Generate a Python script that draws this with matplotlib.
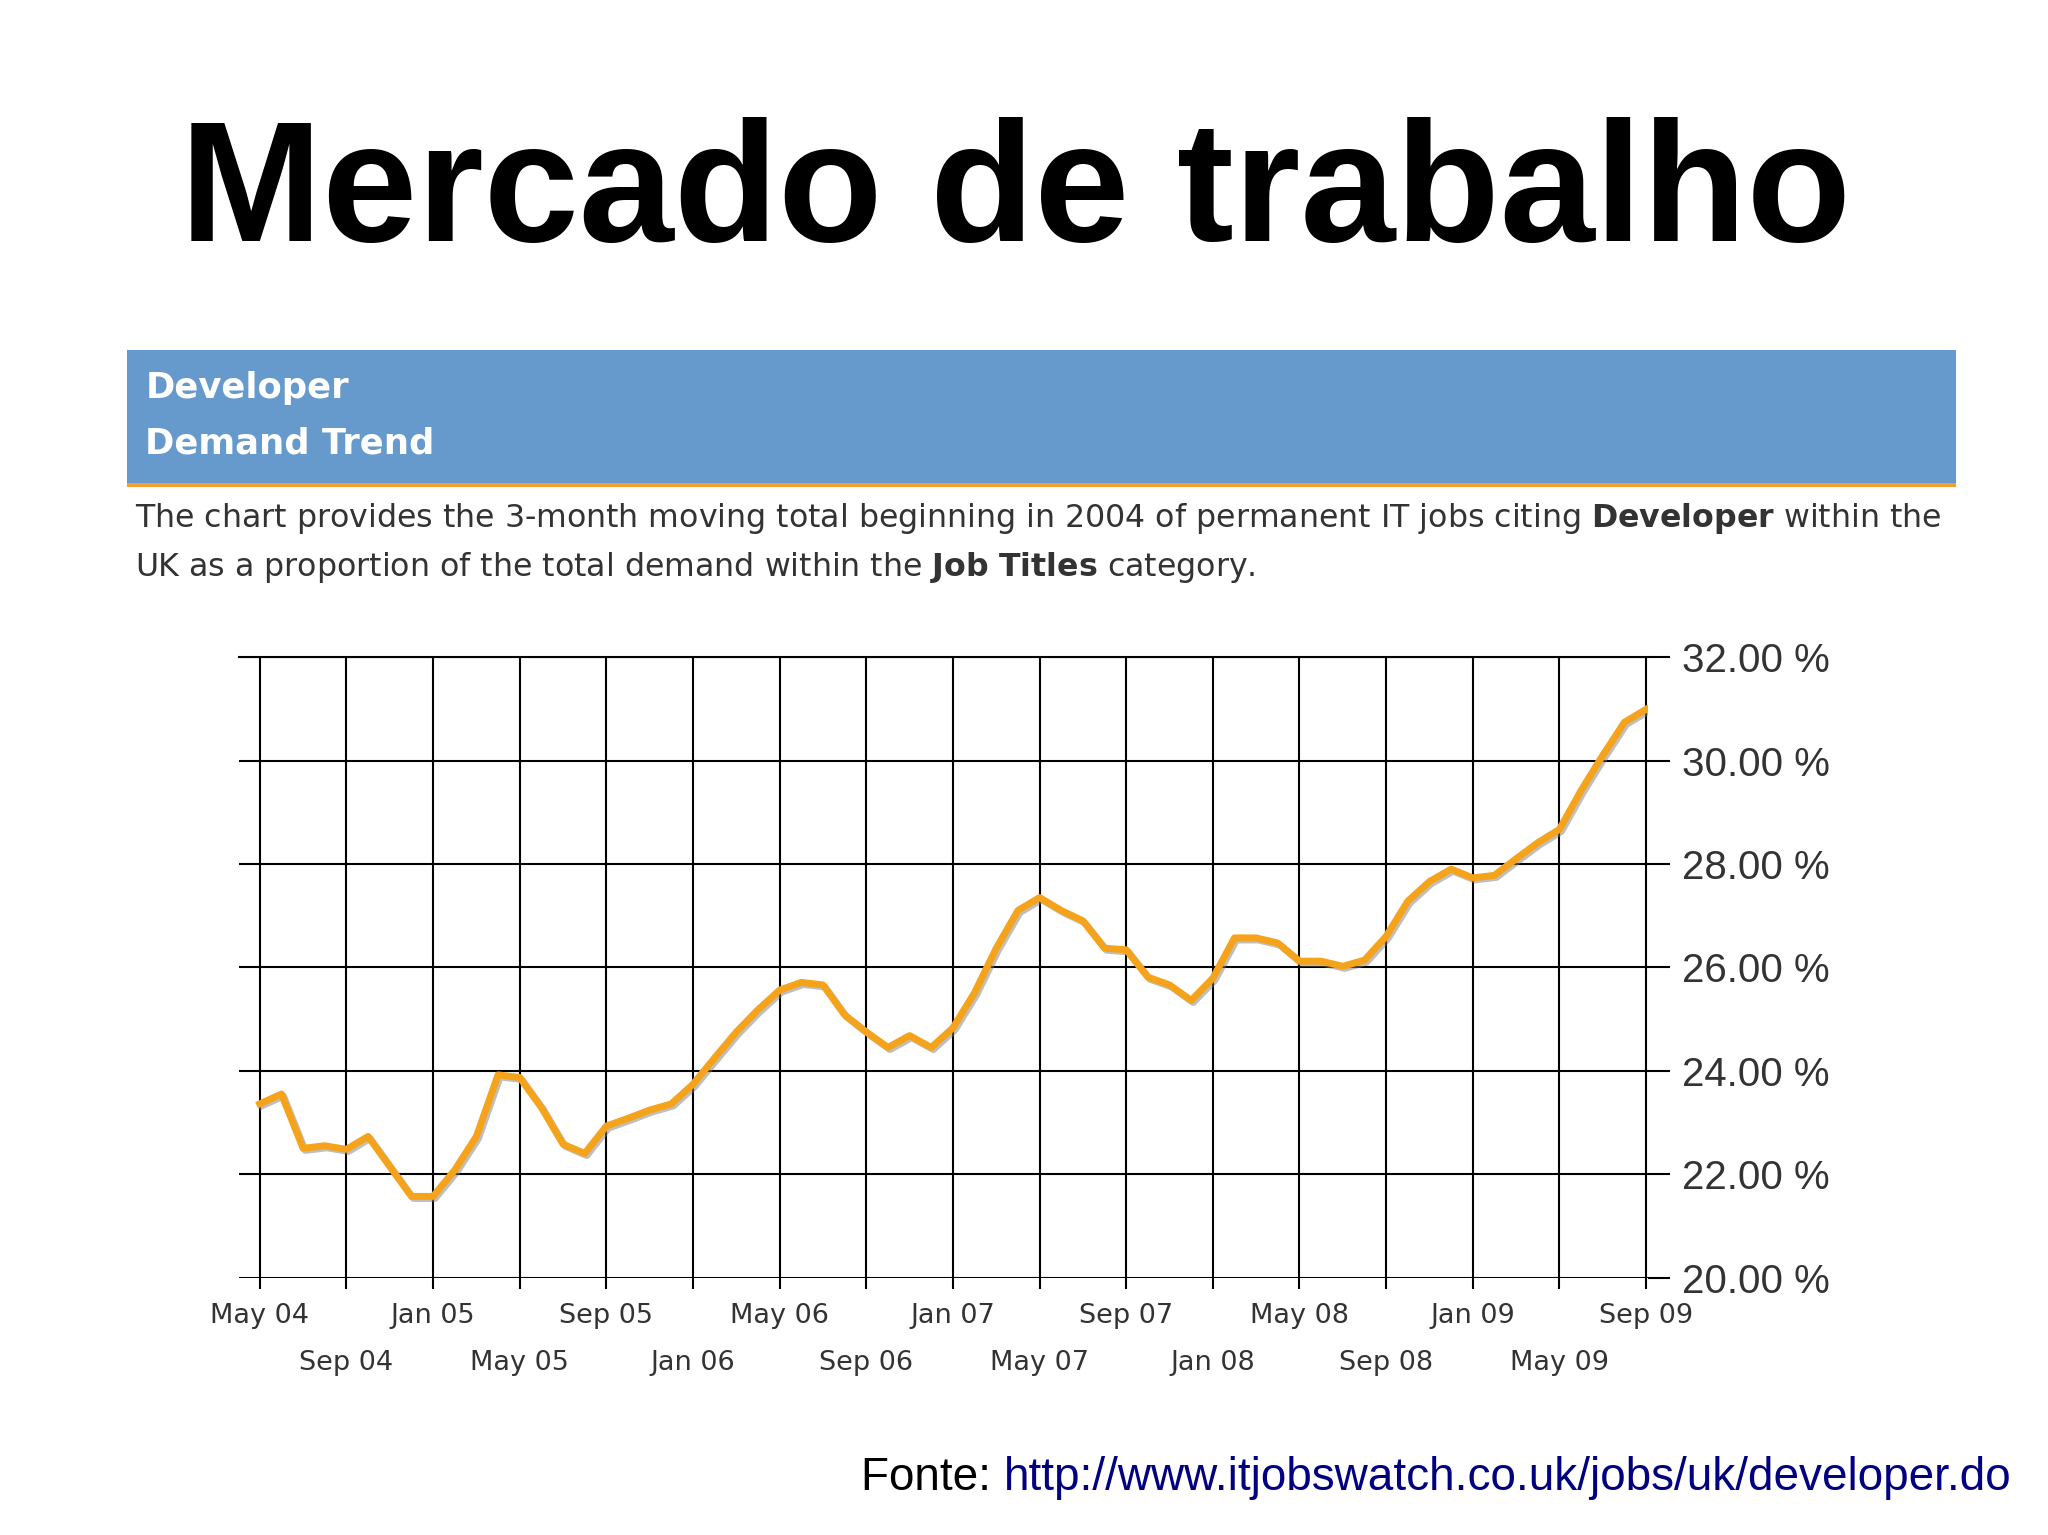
import matplotlib
matplotlib.use("Agg")
import matplotlib.pyplot as plt
import matplotlib.patheffects as pe
from matplotlib.patches import Rectangle

values = [23.36, 23.55, 22.5, 22.55, 22.48, 22.73, 22.15, 21.57, 21.57, 22.08, 22.73, 23.92,
          23.87, 23.29, 22.58, 22.4, 22.93, 23.08, 23.24, 23.36, 23.74, 24.25, 24.75, 25.18,
          25.56, 25.71, 25.66, 25.08, 24.75, 24.45, 24.68, 24.45, 24.83, 25.51, 26.37, 27.1,
          27.35, 27.1, 26.9, 26.37, 26.34, 25.81, 25.66, 25.36, 25.79, 26.57, 26.57, 26.47,
          26.12, 26.12, 26.02, 26.14, 26.6, 27.28, 27.66, 27.9, 27.73, 27.78, 28.1, 28.41,
          28.67, 29.42, 30.1, 30.74, 30.99]
tick_labels = ["May 04", "Sep 04", "Jan 05", "May 05", "Sep 05", "Jan 06", "May 06",
               "Sep 06", "Jan 07", "May 07", "Sep 07", "Jan 08", "May 08", "Sep 08", "Jan 09", "May 09", "Sep 09"]
y_ticks = [20, 22, 24, 26, 28, 30, 32]

plt.rcParams['font.family'] = ['Liberation Sans', 'DejaVu Sans']
plt.rcParams['mathtext.fontset'] = 'custom'
plt.rcParams['mathtext.rm'] = 'DejaVu Sans'
plt.rcParams['mathtext.bf'] = 'DejaVu Sans:bold'
fig = plt.figure(figsize=(20.48, 15.35), dpi=100)

fig.text(0.496, 0.872, "Mercado de trabalho", ha='center', va='center', fontsize=123, fontweight='bold')

fig.patches.append(Rectangle((0.062, 0.685), 0.893, 0.087, transform=fig.transFigure,
                             facecolor='#6699cc', edgecolor='none'))
fig.patches.append(Rectangle((0.062, 0.683), 0.893, 0.0025, transform=fig.transFigure,
                             facecolor='#f0a030', edgecolor='none'))
fig.text(0.071, 0.747, "Developer", color='white', fontsize=25.5, fontweight='bold', va='center', family='DejaVu Sans')
fig.text(0.071, 0.711, "Demand Trend", color='white', fontsize=25.5, fontweight='bold', va='center', family='DejaVu Sans')

fig.text(0.066, 0.662, r"The chart provides the 3-month moving total beginning in 2004 of permanent IT jobs citing $\bf{Developer}$ within the",
         fontsize=22.8, color='#333333', va='center', family='DejaVu Sans')
fig.text(0.066, 0.630, r"UK as a proportion of the total demand within the $\bf{Job\ Titles}$ category.",
         fontsize=22.8, color='#333333', va='center', family='DejaVu Sans')

ax = fig.add_axes([0.1167, 0.1677, 0.6881, 0.4042])
x = list(range(len(values)))
ax.plot(x, values, color='#f5a31a', lw=5, solid_joinstyle='round',
        path_effects=[pe.SimpleLineShadow(offset=(1.5, -1.5), shadow_color='gray', alpha=0.5), pe.Normal()])
ax.set_xlim(-0.96, 64.1)
ax.set_ylim(20, 32)
xt = list(range(0, 65, 4))
ax.set_xticks(xt)
ax.set_xticklabels([l if i % 2 == 0 else "" for i, l in enumerate(tick_labels)],
                   fontsize=19.5, color='#333333', family='DejaVu Sans')
sec = ax.secondary_xaxis('bottom')
sec.set_xticks(xt[1::2])
sec.set_xticklabels(tick_labels[1::2], fontsize=19.5, color='#333333', family='DejaVu Sans')
sec.tick_params(axis='x', length=0, pad=52)
sec.spines['bottom'].set_visible(False)
ax.set_yticks(y_ticks)
ax.set_yticklabels([f"{v:.2f} %" for v in y_ticks], fontsize=29, color='#333333')
ax.yaxis.tick_right()
ax.tick_params(axis='y', length=16, width=1.5, pad=8)
ax.tick_params(axis='x', length=8, width=1.5, pad=10)
ax.grid(True, color='black', lw=1.5)
for s in ['left', 'right', 'bottom']:
    ax.spines[s].set_visible(False)
ax.spines['top'].set_linewidth(1.5)
ax.set_axisbelow(True)

link = fig.text(0.982, 0.037, "http://www.itjobswatch.co.uk/jobs/uk/developer.do", ha='right', va='center',
                fontsize=33, color='#000080')
fig.add_artist(matplotlib.text.Annotation("Fonte: ", xy=(0, 0.5), xycoords=link, ha='right', va='center',
                                          fontsize=33, color='black'))
fig.savefig("out.png", dpi=100)
